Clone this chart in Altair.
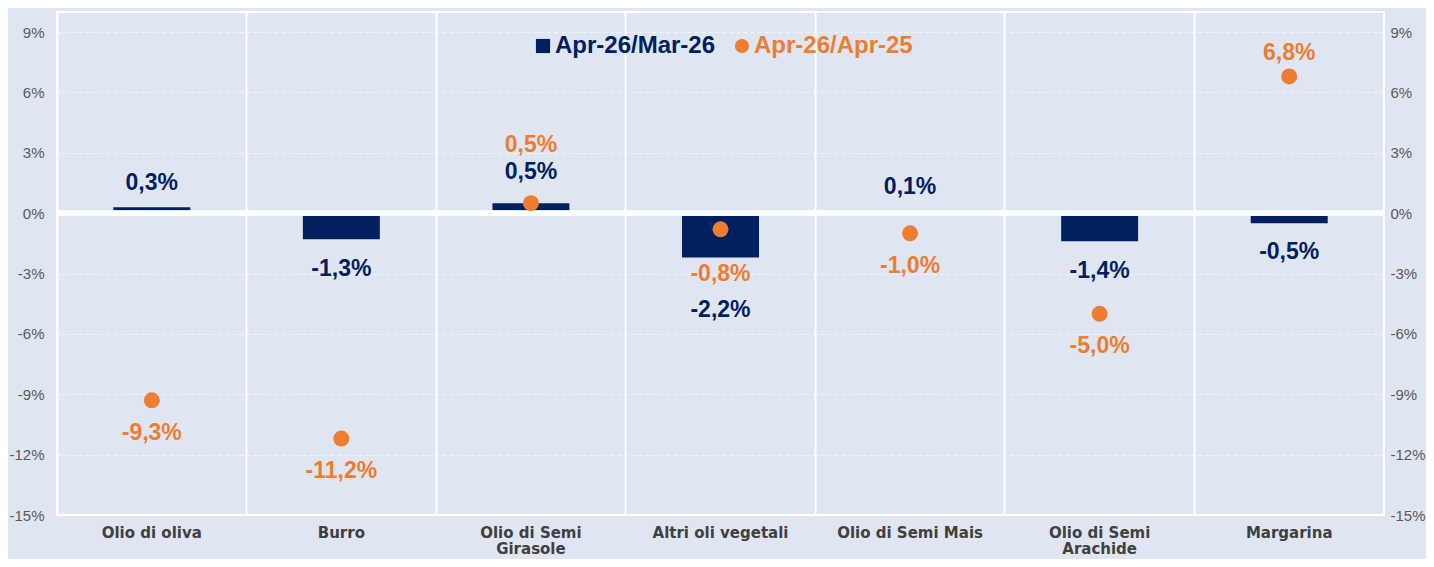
import altair as alt
import pandas as pd

categories = ["Olio di oliva", "Burro", "Olio di Semi Girasole", "Altri oli vegetali",
              "Olio di Semi Mais", "Olio di Semi Arachide", "Margarina"]
mom = [0.3, -1.3, 0.5, -2.2, 0.1, -1.4, -0.5]      # Apr-26/Mar-26
yoy = [-9.3, -11.2, 0.5, -0.8, -1.0, -5.0, 6.8]    # Apr-26/Apr-25
series = ["Apr-26/Mar-26", "Apr-26/Apr-25"]
y_ticks = [-15, -12, -9, -6, -3, 0, 3, 6, 9]

NAVY = "#002060"
ORANGE = "#ed7d31"
BG = "#dfe6f2"
FONT = "Liberation Sans"

df = pd.DataFrame({"cat": categories, "mom": mom, "yoy": yoy})

base = alt.Chart(df).transform_calculate(
    s1=f"'{series[0]}'",
    s2=f"'{series[1]}'",
    stack="datum.mom*datum.yoy > 0 && abs(datum.yoy) <= abs(datum.mom) + 0.5",
    nl="datum.stack ? (datum.mom >= 0 ? datum.mom + 1.55 : datum.mom - 2.6) : (datum.mom >= 0 ? datum.mom + 1.2 : datum.mom - 1.45)",
    ol="datum.stack ? (datum.yoy >= 0 ? datum.mom + 2.9 : datum.mom - 0.8) : (datum.yoy >= 0 ? datum.yoy + 1.15 : datum.yoy - 1.6)",
    nt="(datum.mom < 0 ? '-' : '') + replace(format(abs(datum.mom), '.1f'), '.', ',') + '%'",
    ot="(datum.yoy < 0 ? '-' : '') + replace(format(abs(datum.yoy), '.1f'), '.', ',') + '%'",
)

yscale = alt.Scale(domain=[-15, 10], nice=False, zero=False)

x_enc = alt.X(
    "cat:N", sort=categories, title=None,
    scale=alt.Scale(paddingInner=0, paddingOuter=0),
    axis=alt.Axis(
        labelExpr="length(datum.value) > 18 ? [slice(datum.value, 0, 12), slice(datum.value, 13)] : datum.value",
        labelFont="DejaVu Sans", labelFontWeight="bold", labelFontSize=15,
        labelColor="#404040", labelPadding=10, labelLineHeight=16,
        labelAngle=0, labelOverlap=False, labelLimit=0,
        ticks=False, domain=False, grid=True, gridColor="white", gridWidth=2,
        bandPosition=0,
    ),
)

left_axis = alt.Axis(
    values=y_ticks, labelExpr="datum.value + '%'", orient="left",
    labelFont=FONT, labelFontSize=15, labelColor="#595959", labelPadding=13,
    ticks=False, domain=False, grid=True, gridColor="white", gridOpacity=0.6,
    gridDash=[4, 3], gridWidth=1, title=None,
)
right_axis = alt.Axis(
    values=y_ticks, labelExpr="datum.value + '%'", orient="right",
    labelFont=FONT, labelFontSize=15, labelColor="#595959", labelPadding=6,
    ticks=False, domain=False, grid=False, title=None,
)

legend = alt.Legend(
    title=None, orient="none", legendX=474, legendY=22, direction="horizontal",
    labelFont=FONT, labelFontWeight="bold", labelFontSize=24,
    labelColor=alt.ExprRef(expr=f"datum.value == '{series[0]}' ? '{NAVY}' : '{ORANGE}'"),
    symbolSize=200, symbolStrokeWidth=0, labelOffset=0, columnPadding=14, labelLimit=0,
)
color_scale = alt.Scale(domain=series, range=[NAVY, ORANGE])
shape_scale = alt.Scale(domain=series, range=["square", "circle"])

bars = base.mark_bar(width=alt.RelativeBandSize(0.406)).encode(
    x=x_enc,
    y=alt.Y("mom:Q", scale=yscale, axis=left_axis),
    y2=alt.Y2(datum=0),
    color=alt.Color("s1:N", scale=color_scale, legend=legend),
)

zero = base.mark_rule(color="white", strokeWidth=5).encode(
    y=alt.Y(datum=0, type="quantitative", scale=yscale, axis=right_axis),
)

points = base.mark_point(filled=True, size=256, opacity=1).encode(
    x=x_enc,
    y=alt.Y("yoy:Q", scale=yscale, axis=None),
    color=alt.Color("s2:N", scale=color_scale, legend=legend),
    shape=alt.Shape("s2:N", scale=shape_scale, legend=legend),
)

navy_text = base.mark_text(font=FONT, fontWeight="bold", fontSize=23, color=NAVY,
                           baseline="middle").encode(
    x=x_enc,
    y=alt.Y("nl:Q", scale=yscale, axis=None),
    text="nt:N",
)
orange_text = base.mark_text(font=FONT, fontWeight="bold", fontSize=23, color=ORANGE,
                             baseline="middle").encode(
    x=x_enc,
    y=alt.Y("ol:Q", scale=yscale, axis=None),
    text="ot:N",
)

chart = alt.layer(bars, zero, points, navy_text, orange_text).resolve_scale(
    y="independent"
).properties(
    width=1327, height=503,
    autosize=alt.AutoSizeParams(type="none"),
    padding={"left": 49, "top": 4, "right": 42, "bottom": 44},
    background=BG,
).configure_view(
    fill=BG, stroke="white", strokeWidth=2,
)

chart.save("out.html", embed_options={"renderer": "svg", "actions": False})
